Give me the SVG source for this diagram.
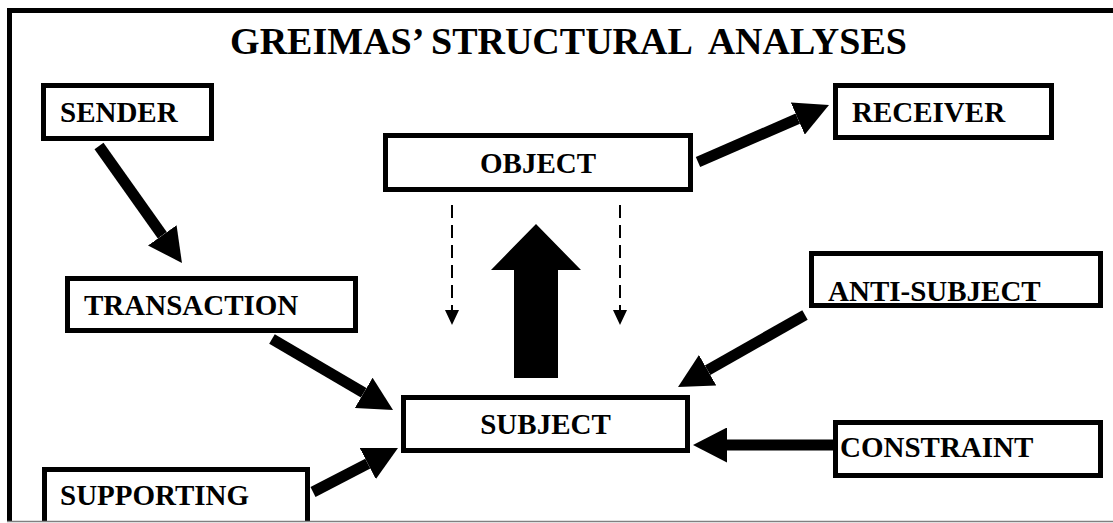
<svg xmlns="http://www.w3.org/2000/svg" width="1113" height="523" viewBox="0 0 1113 523">
  <style>
    .box { fill: #ffffff; stroke: #000000; stroke-width: 5; }
    .lbl { font-family: "Liberation Serif", "Times New Roman", serif; font-weight: bold; font-size: 29px; fill: #000000; }
    .title { font-family: "Liberation Serif", "Times New Roman", serif; font-weight: bold; font-size: 38px; fill: #000000; }
    .thick { stroke: #000000; stroke-width: 11; fill: none; marker-end: url(#head); }
    .dash { stroke: #000000; stroke-width: 2; stroke-dasharray: 13 7; fill: none; }
    .fillblk { fill: #000000; stroke: none; }
  </style>
  <defs>
    <marker id="head" viewBox="0 0 34 35" markerUnits="userSpaceOnUse" markerWidth="34" markerHeight="35" refX="0" refY="17.5" orient="auto">
      <path d="M0,0 L34,17.5 L0,35 Z" fill="#000000"/>
    </marker>
  </defs>
  <rect x="0" y="0" width="1113" height="523" fill="#ffffff"/>

  <g id="frame">
    <path d="M9.5,523 V10.5 H1113" fill="none" stroke="#000000" stroke-width="5"/>
  </g>

  <g id="title">
    <text class="title" x="568.5" y="54" text-anchor="middle" xml:space="preserve">GREIMAS’ STRUCTURAL  ANALYSES</text>
  </g>

  <g id="connectors">
    <line class="thick" x1="99" y1="146" x2="162.3" y2="235.3"/>
    <line class="thick" x1="698" y1="162" x2="797.8" y2="118.6"/>
    <line class="thick" x1="272" y1="339" x2="363.7" y2="392.8"/>
    <line class="thick" x1="313" y1="492" x2="367.8" y2="463.6"/>
    <line class="thick" x1="805" y1="315" x2="707.6" y2="370.2"/>
    <line class="thick" x1="833" y1="445" x2="727" y2="445"/>
    <polygon class="fillblk" points="514,378 558,378 558,270 581,270 536,224 491,270 514,270"/>
    <line class="dash" x1="452" y1="205" x2="452" y2="311"/>
    <polygon class="fillblk" points="445,310 459,310 452,325"/>
    <line class="dash" x1="620" y1="205" x2="620" y2="311"/>
    <polygon class="fillblk" points="613,310 627,310 620,325"/>
  </g>

  <g id="sender">
    <rect class="box" x="43.5" y="85.5" width="168" height="53"/>
    <text class="lbl" x="60" y="122">SENDER</text>
  </g>
  <g id="receiver">
    <rect class="box" x="835.5" y="85.5" width="216" height="52"/>
    <text class="lbl" x="852" y="122">RECEIVER</text>
  </g>
  <g id="object">
    <rect class="box" x="385.5" y="135.5" width="305" height="54"/>
    <text class="lbl" x="538" y="173" text-anchor="middle">OBJECT</text>
  </g>
  <g id="transaction">
    <rect class="box" x="67.5" y="278.5" width="288" height="52"/>
    <text class="lbl" x="84" y="315">TRANSACTION</text>
  </g>
  <g id="anti-subject">
    <rect class="box" x="811.5" y="253.5" width="289" height="52"/>
    <text class="lbl" x="828" y="301">ANTI-SUBJECT</text>
  </g>
  <g id="subject">
    <rect class="box" x="403.5" y="397.5" width="284" height="53"/>
    <text class="lbl" x="545.5" y="434" text-anchor="middle">SUBJECT</text>
  </g>
  <g id="constraint">
    <rect class="box" x="835.5" y="422.5" width="265" height="53"/>
    <text class="lbl" x="840" y="457">CONSTRAINT</text>
  </g>
  <g id="supporting">
    <rect class="box" x="44.5" y="469.5" width="263" height="60"/>
    <text class="lbl" x="60" y="505">SUPPORTING</text>
  </g>

  <g id="bottom-edge">
    <rect x="0" y="522" width="1113" height="1" fill="#ffffff"/>
    <line x1="7" y1="521.5" x2="1113" y2="521.5" stroke="#808080" stroke-width="1.5"/>
  </g>
</svg>
